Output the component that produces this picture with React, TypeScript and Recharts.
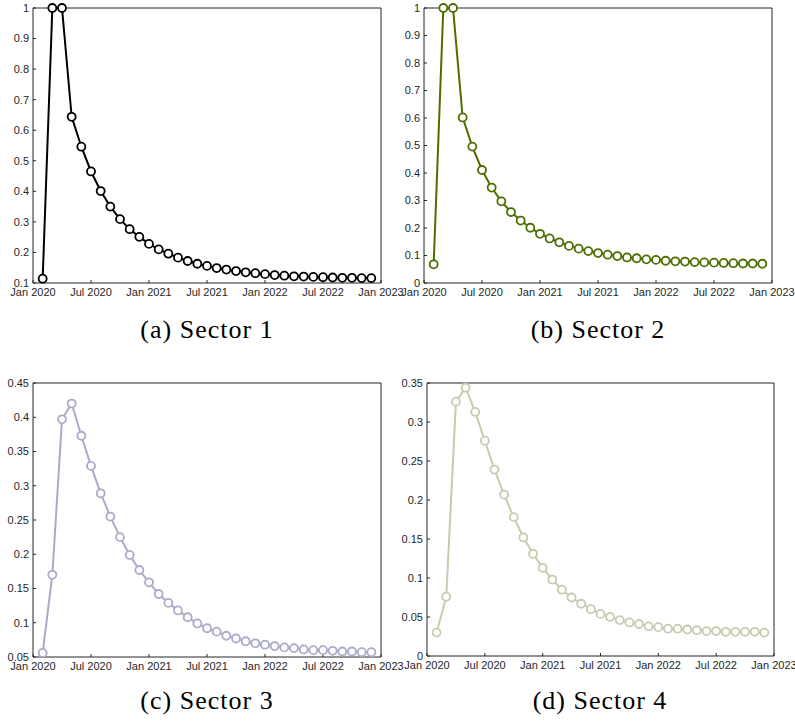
import React from "react";
import { LineChart, Line, XAxis, YAxis } from "recharts";

// month index (Jan 2020 = 0)
const months = [
  1, 2, 3, 4, 5, 6, 7, 8, 9, 10, 11, 12, 13, 14, 15, 16, 17, 18, 19, 20, 21, 22, 23, 24, 25, 26, 27, 28, 29, 30, 31, 32, 33, 34, 35,
];
const xTickValues = [0, 6, 12, 18, 24, 30, 36];
const xTickLabels = ["Jan 2020", "Jul 2020", "Jan 2021", "Jul 2021", "Jan 2022", "Jul 2022", "Jan 2023"];

const sector1 = [
  0.114, 1.0, 1.0, 0.644, 0.546, 0.465, 0.401, 0.35, 0.309, 0.276, 0.251, 0.228, 0.21, 0.196, 0.183, 0.172, 0.163, 0.156,
  0.149, 0.144, 0.139, 0.135, 0.132, 0.129, 0.126, 0.124, 0.122, 0.121, 0.12, 0.119, 0.118, 0.117, 0.117, 0.116, 0.116,
];
const sector2 = [
  0.068, 1.0, 1.0, 0.602, 0.496, 0.411, 0.347, 0.297, 0.258, 0.227, 0.201, 0.179, 0.162, 0.148, 0.135, 0.125, 0.116, 0.109,
  0.103, 0.098, 0.093, 0.09, 0.086, 0.084, 0.081, 0.079, 0.078, 0.076, 0.075, 0.074, 0.073, 0.072, 0.071, 0.071, 0.07,
];
const sector3 = [
  0.056, 0.17, 0.397, 0.42, 0.373, 0.329, 0.289, 0.255, 0.225, 0.199, 0.177, 0.159, 0.142, 0.129, 0.118, 0.108, 0.099, 0.092,
  0.087, 0.081, 0.077, 0.073, 0.07, 0.068, 0.066, 0.064, 0.063, 0.061, 0.06, 0.06, 0.059, 0.058, 0.058, 0.057, 0.057,
];
const sector4 = [
  0.03, 0.076, 0.326, 0.344, 0.313, 0.276, 0.239, 0.207, 0.178, 0.152, 0.131, 0.113, 0.098, 0.085, 0.075, 0.067, 0.06, 0.054,
  0.05, 0.046, 0.043, 0.041, 0.038, 0.037, 0.035, 0.035, 0.034, 0.033, 0.032, 0.032, 0.031, 0.031, 0.031, 0.031, 0.03,
];

const yTicks1 = [0.1, 0.2, 0.3, 0.4, 0.5, 0.6, 0.7, 0.8, 0.9, 1];
const yTicks2 = [0, 0.1, 0.2, 0.3, 0.4, 0.5, 0.6, 0.7, 0.8, 0.9, 1];
const yTicks3 = [0.05, 0.1, 0.15, 0.2, 0.25, 0.3, 0.35, 0.4, 0.45];
const yTicks4 = [0, 0.05, 0.1, 0.15, 0.2, 0.25, 0.3, 0.35];

const captions = ["(a) Sector 1", "(b) Sector 2", "(c) Sector 3", "(d) Sector 4"];
const colors = ["#000000", "#4e6e00", "#aaaacb", "#cacab0"];

const AX = "#262626";
const tickFont = { fontFamily: "Liberation Sans, Arial, sans-serif", fontSize: 11, fill: "#262626" };

function makeData(values: number[]) {
  return months.map((m, i) => ({ m, v: values[i] }));
}

type PanelProps = {
  left: number;
  top: number;
  width: number;
  height: number;
  yWidth: number;
  rightMargin: number;
  values: number[];
  yDomain: [number, number];
  yTicks: number[];
  color: string;
};

function Panel(p: PanelProps) {
  const data = makeData(p.values);
  return (
    <div style={{ position: "absolute", left: p.left, top: p.top }}>
      <LineChart
        width={p.width}
        height={p.height}
        data={data}
        margin={{ top: 8, right: p.rightMargin, bottom: 0, left: 0 }}
      >
        <XAxis
          dataKey="m"
          type="number"
          domain={[0, 36]}
          ticks={xTickValues}
          tickFormatter={(v: number) => xTickLabels[xTickValues.indexOf(v)] ?? ""}
          height={17}
          tickSize={-3}
          tickMargin={8}
          tick={tickFont}
          stroke={AX}
          axisLine={{ stroke: AX, strokeWidth: 1 }}
          tickLine={{ stroke: AX }}
          interval={0}
          allowDecimals
        />
        <XAxis
          xAxisId="top"
          orientation="top"
          type="number"
          dataKey="m"
          domain={[0, 36]}
          ticks={xTickValues}
          mirror
          tick={false}
          tickSize={3}
          height={1}
          stroke={AX}
          axisLine={{ stroke: AX, strokeWidth: 1 }}
          tickLine={{ stroke: AX }}
          interval={0}
        />
        <YAxis
          type="number"
          domain={p.yDomain}
          ticks={p.yTicks}
          width={p.yWidth}
          tickSize={-3}
          tickMargin={7}
          tick={tickFont}
          tickFormatter={(v: number) => String(v)}
          stroke={AX}
          axisLine={{ stroke: AX, strokeWidth: 1 }}
          tickLine={{ stroke: AX }}
          interval={0}
        />
        <YAxis
          yAxisId="right"
          orientation="right"
          type="number"
          domain={p.yDomain}
          ticks={p.yTicks}
          mirror
          tick={false}
          tickSize={3}
          width={1}
          stroke={AX}
          axisLine={{ stroke: AX, strokeWidth: 1 }}
          tickLine={{ stroke: AX }}
          interval={0}
        />
        <Line
          dataKey="v"
          type="linear"
          stroke={p.color}
          strokeWidth={2}
          dot={{ r: 4, stroke: p.color, strokeWidth: 1.8, fill: "#ffffff" }}
          activeDot={false}
          isAnimationActive={false}
        />
      </LineChart>
    </div>
  );
}

function Caption({ text, x, y }: { text: string; x: number; y: number }) {
  return (
    <svg
      style={{ position: "absolute", left: x - 100, top: y - 30 }}
      width={200}
      height={40}
    >
      <text
        x={100}
        y={30}
        textAnchor="middle"
        fontFamily="Liberation Serif, Times New Roman, serif"
        fontSize={26}
        letterSpacing={1}
        fill="#000"
      >
        {text}
      </text>
    </svg>
  );
}

export default function App() {
  return (
    <div style={{ position: "absolute", left: 0, top: 0, width: 795, height: 723, background: "#fff", overflow: "hidden" }}>
      <Panel left={0} top={0} width={420} height={300} yWidth={33} rightMargin={39} values={sector1} yDomain={[0.1, 1]} yTicks={yTicks1} color={colors[0]} />
      <Panel left={395} top={0} width={425} height={300} yWidth={29} rightMargin={48} values={sector2} yDomain={[0, 1]} yTicks={yTicks2} color={colors[1]} />
      <Panel left={0} top={375} width={420} height={299} yWidth={33} rightMargin={39} values={sector3} yDomain={[0.05, 0.45]} yTicks={yTicks3} color={colors[2]} />
      <Panel left={395} top={375} width={425} height={298} yWidth={32} rightMargin={46} values={sector4} yDomain={[0, 0.35]} yTicks={yTicks4} color={colors[3]} />
      <Caption text={captions[0]} x={207} y={338} />
      <Caption text={captions[1]} x={598} y={338} />
      <Caption text={captions[2]} x={207} y={709} />
      <Caption text={captions[3]} x={600} y={709} />
    </div>
  );
}
